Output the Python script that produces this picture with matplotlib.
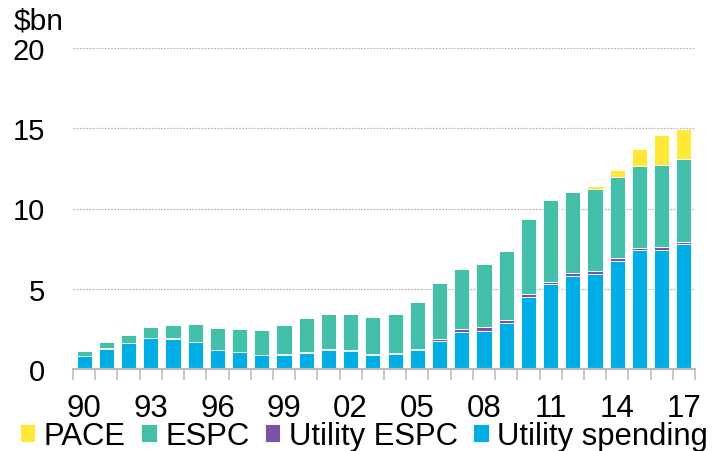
import matplotlib
matplotlib.use("Agg")
import matplotlib.pyplot as plt
import numpy as np

plt.rcParams['font.family'] = ['Liberation Sans', 'DejaVu Sans']

years = list(range(1990, 2018))
utility_spending = [0.79, 1.25, 1.60, 1.91, 1.86, 1.66, 1.18, 1.04, 0.85, 0.88,
                    1.00, 1.18, 1.11, 0.86, 0.93, 1.18, 1.77, 2.33, 2.37, 2.85,
                    4.47, 5.28, 5.79, 5.94, 6.71, 7.39, 7.43, 7.81]
utility_espc = [0.02, 0.05, 0.05, 0.03, 0.06, 0.04, 0.03, 0.04, 0.03, 0.04,
                0.05, 0.06, 0.06, 0.06, 0.06, 0.08, 0.12, 0.18, 0.27, 0.22,
                0.20, 0.16, 0.17, 0.19, 0.18, 0.17, 0.17, 0.12]
espc = [0.33, 0.36, 0.49, 0.66, 0.80, 1.10, 1.34, 1.41, 1.57, 1.84,
        2.13, 2.19, 2.26, 2.34, 2.44, 2.91, 3.49, 3.70, 3.88, 4.28,
        4.68, 5.06, 5.09, 5.08, 5.09, 5.11, 5.13, 5.17]
pace = [0, 0, 0, 0, 0, 0, 0, 0, 0, 0,
        0, 0, 0, 0, 0, 0, 0, 0, 0, 0,
        0, 0.05, 0.04, 0.19, 0.42, 1.06, 1.83, 1.87]

series = [
    ("Utility spending", utility_spending, "#00ADE4"),
    ("Utility ESPC", utility_espc, "#7B52A6"),
    ("ESPC", espc, "#44BFAA"),
    ("PACE", pace, "#FFE838"),
]

fig = plt.figure(figsize=(7.17, 4.52), dpi=100)
ax = fig.add_axes([73 / 717, 1 - 370 / 452, (695 - 73) / 717, (370 - 49) / 452])

x = np.arange(len(years))
bottom = np.zeros(len(years))
handles = {}
for name, vals, col in series:
    vals = np.array(vals)
    h = ax.bar(x, vals, bottom=bottom, width=0.68, color=col,
               edgecolor="white", linewidth=0.6, zorder=3)
    handles[name] = h
    bottom += vals

ax.set_xlim(-0.5, len(years) - 0.5)
ax.set_ylim(0, 20)
ax.set_yticks([0, 5, 10, 15, 20])
ax.set_yticklabels(["0", "5", "10", "15", "20"])
for v in [5, 10, 15, 20]:
    ax.axhline(v, color="#BBBBBB", linestyle=(0, (1.5, 1)), linewidth=0.9, zorder=1)

label_idx = [i for i, y in enumerate(years) if (y - 1990) % 3 == 0]
ax.set_xticks(label_idx)
ax.set_xticklabels([f"{years[i] % 100:02d}" for i in label_idx])
ax.set_xticks(np.arange(-0.5, len(years), 1.0), minor=True)
ax.tick_params(axis="x", which="major", length=0, pad=17, labelsize=22.5)
ax.tick_params(axis="x", which="minor", length=8, width=1.2, color="#BBBBBB")
ax.tick_params(axis="y", length=0, pad=20, labelsize=21)

for s in ["left", "right", "top"]:
    ax.spines[s].set_visible(False)
ax.spines["bottom"].set_color("#BBBBBB")
ax.spines["bottom"].set_linewidth(1.6)
ax.spines["bottom"].set_zorder(4)

fig.text(14 / 717, 1 - 22 / 452, r"\$bn", fontsize=21.5, va="center", ha="left")

order = ["PACE", "ESPC", "Utility ESPC", "Utility spending"]
leg = fig.legend([handles[n] for n in order], order, loc="lower left",
                 bbox_to_anchor=(20 / 717, 0.0), ncol=4, frameon=False,
                 fontsize=22.3, handlelength=0.5, handleheight=0.55,
                 handletextpad=0.27, columnspacing=0.5, borderpad=0,
                 borderaxespad=0)

fig.savefig("out.png", dpi=100)
